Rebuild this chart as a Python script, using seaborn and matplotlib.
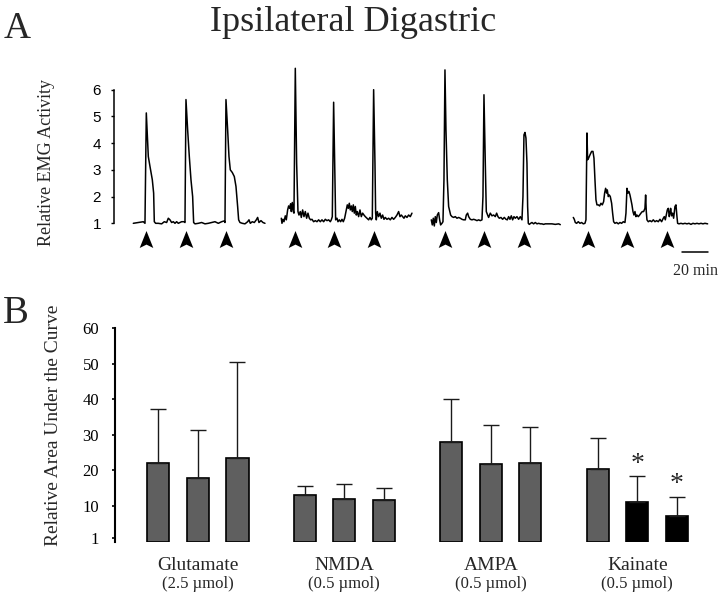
import numpy as np
import pandas as pd
import seaborn as sns
import matplotlib
matplotlib.use('Agg')
from matplotlib import pyplot as plt
from matplotlib import transforms
from matplotlib.path import Path

# ---- panel A: EMG traces, (minutes from trace start, relative EMG activity)
trace_glutamate = [
    (0, 1.0), (3.75, 1.03), (7.5, 1.06), (8.75, 1.0), (9.75, 5.13), (11.25, 3.5),
    (12.5, 3.13), (14.25, 2.63), (15.25, 2.13), (15.75, 1.06), (16.75, 1.0),
    (18.75, 1.0), (21.25, 0.98), (23.25, 1.06), (25, 1.03), (26.25, 1.19),
    (27.5, 1.13), (28.75, 1.03), (30, 1.06), (31.25, 1.0), (32.5, 1.06),
    (33.75, 1.0), (35, 1.03), (36.25, 1.06), (38, 1.06), (38.75, 1.03),
    (39.5, 5.63), (40.75, 4.5), (42, 3.5), (43.25, 2.63), (44.5, 2.0),
    (45.25, 1.03), (46.25, 0.98), (48.75, 1.0), (51.25, 1.03), (53.75, 0.98),
    (56.25, 1.0), (58.75, 1.03), (61.25, 1.06), (63.75, 1.0), (66.25, 1.06),
    (68.25, 1.09), (68.75, 1.03), (69.5, 5.63), (70.75, 4.5), (71.75, 3.5),
    (72.75, 3.0), (74.25, 2.9), (75.75, 2.75), (77, 2.38), (78.25, 1.63),
    (79, 1.13), (80, 1.03), (81.75, 1.0), (83.75, 0.98), (85.75, 1.06),
    (86.75, 1.13), (87.75, 1.0), (89.25, 1.06), (90.75, 1.03), (92.25, 1.13),
    (93.25, 1.22), (94.25, 1.03), (95.75, 1.1), (97.25, 1.03), (98.75, 1.0),
]
trace_nmda = [
    (0, 1.19), (0.5, 1.0), (1.25, 1.15), (2, 1.06), (3, 1.28), (3.75, 1.13),
    (4.75, 1.5), (5.5, 1.65), (6.25, 1.56), (7, 1.73), (7.5, 1.44), (8.25, 1.78),
    (9, 1.44), (9.5, 1.38), (10.5, 6.8), (11.5, 3.25), (12.5, 1.44), (13.25, 1.31),
    (14.25, 1.44), (15, 1.22), (16, 1.5), (17, 1.25), (18, 1.44), (19, 1.19),
    (20, 1.38), (21, 1.19), (22, 1.13), (23, 1.15), (24.25, 1.06), (25.5, 1.1),
    (26.75, 1.06), (28, 1.13), (29.25, 1.06), (30.5, 1.13), (31.75, 1.06),
    (33, 1.15), (34.25, 1.1), (35.5, 1.13), (36.75, 1.06), (37.5, 1.13),
    (38.25, 1.25), (39.25, 5.53), (40.25, 2.63), (40.75, 1.13), (41.75, 1.19),
    (42.5, 1.06), (43.5, 1.13), (44.5, 1.06), (45.5, 1.15), (46.5, 1.06),
    (47.5, 1.19), (48.5, 1.44), (49.5, 1.69), (50.25, 1.56), (51, 1.75),
    (51.75, 1.5), (52.5, 1.65), (53.25, 1.44), (54, 1.69), (54.75, 1.38),
    (55.5, 1.63), (56.25, 1.31), (57, 1.44), (58, 1.25), (59, 1.5), (60, 1.25),
    (61, 1.38), (62, 1.31), (63, 1.25), (64.25, 1.19), (65.5, 1.13), (66.5, 1.22),
    (67.5, 1.13), (68.25, 1.19), (69.25, 6.0), (70.25, 3.25), (70.75, 1.38),
    (71.25, 1.13), (72, 1.44), (73, 1.25), (74, 1.38), (75, 1.19), (76, 1.31),
    (77, 1.15), (78, 1.22), (79.25, 1.15), (80.5, 1.19), (81.75, 1.13), (83, 1.22),
    (84.25, 1.15), (85.5, 1.22), (86.75, 1.31), (88, 1.44), (89, 1.25), (90, 1.31),
    (91, 1.25), (92, 1.19), (93, 1.28), (94.25, 1.22), (95.5, 1.31), (96.75, 1.25),
    (98, 1.38),
]
trace_ampa = [
    (0, 1.13), (0.75, 0.94), (1.5, 1.19), (2.25, 0.9), (3, 1.25), (3.75, 1.03),
    (4.5, 1.31), (5.5, 1.4), (6.25, 1.13), (7, 0.94), (8, 1.0), (8.75, 1.06),
    (9.5, 2.63), (10.25, 6.74), (11, 4.5), (12, 2.63), (13, 1.63), (14.5, 1.31),
    (15.5, 1.25), (16.75, 1.22), (18, 1.25), (19.25, 1.19), (20.5, 1.22),
    (21.75, 1.19), (23, 1.15), (24.25, 1.13), (25.5, 1.13), (26.25, 1.31),
    (27.25, 1.38), (28, 1.25), (29.25, 1.15), (30.5, 1.13), (31.75, 1.15),
    (33, 1.13), (34.25, 1.1), (35.5, 1.13), (36.75, 1.1), (38, 1.13), (38.75, 2.0),
    (39.5, 5.81), (40.5, 3.25), (41.25, 1.44), (42.25, 1.31), (43, 1.22),
    (44.25, 1.38), (45.5, 1.28), (46.75, 1.31), (48, 1.25), (49, 1.38), (50, 1.25),
    (51, 1.19), (52.25, 1.22), (53.5, 1.15), (54.75, 1.22), (56, 1.15), (57, 1.13),
    (58, 1.25), (59, 1.15), (60, 1.28), (61, 1.13), (62, 1.25), (63, 1.19),
    (64.25, 1.25), (65.5, 1.15), (66.75, 1.25), (68, 1.13), (68.75, 2.0),
    (69.5, 4.31), (70.25, 4.4), (71, 4.19), (71.75, 3.25), (72.25, 1.63),
    (72.75, 1.0), (73.5, 0.96), (74.5, 1.0), (75.5, 1.03), (76.75, 0.98), (78, 1.03),
    (79.25, 0.98), (80.5, 1.0), (81.75, 0.98), (83, 0.98), (84.25, 0.96),
    (85.5, 0.98), (88, 0.98), (90.5, 0.98), (93, 0.96), (95.5, 0.98), (96.75, 0.95),
]
trace_kainate = [
    (0, 1.22), (0.75, 1.15), (1.5, 1.03), (2.5, 1.0), (3.75, 1.06), (5, 1.0),
    (6.25, 1.03), (7.5, 0.98), (8.75, 1.0), (9.5, 1.13), (10.25, 4.38),
    (10.75, 3.38), (11.5, 3.44), (12.5, 3.56), (13.75, 3.69), (14.75, 3.69),
    (15.5, 3.44), (16.25, 2.63), (17, 1.88), (17.75, 1.69), (18.75, 1.69),
    (19.75, 1.65), (20.75, 1.75), (21.75, 1.69), (22.75, 1.81), (23.5, 2.13),
    (24.25, 2.31), (25, 2.13), (25.5, 2.25), (26.25, 2.0), (27, 2.06), (27.75, 2.0),
    (28.75, 1.75), (29.5, 1.38), (30.25, 1.06), (31.25, 1.0), (32.5, 1.03),
    (33.75, 0.98), (35, 1.03), (36.25, 1.0), (37.5, 1.06), (38.75, 1.03),
    (39.5, 1.38), (40.25, 2.31), (41, 2.13), (41.75, 2.19), (42.5, 2.06),
    (43.25, 1.88), (44, 1.69), (44.75, 1.44), (45.5, 1.31), (46.25, 1.44),
    (47, 1.25), (47.75, 1.31), (48.75, 1.25), (49.75, 1.31), (50.75, 1.38),
    (51.75, 1.44), (52.75, 1.44), (53.75, 1.56), (54.25, 2.06), (54.75, 1.44),
    (55.25, 1.13), (56.25, 1.06), (57.5, 1.1), (58.75, 1.06), (60, 1.13),
    (61.25, 1.06), (62.5, 1.1), (63.75, 1.06), (65, 1.15), (66.25, 1.06),
    (67.5, 1.19), (68.25, 1.25), (69, 1.13), (69.75, 1.31), (70.5, 1.5),
    (71.25, 1.56), (72, 1.25), (72.5, 1.38), (73, 1.56), (73.75, 1.28),
    (74.5, 1.38), (75.25, 1.19), (76.25, 1.63), (77, 1.69), (77.75, 1.25),
    (78.25, 1.0), (79.25, 0.98), (80.75, 1.0), (82.25, 0.98), (83.75, 1.0),
    (85.25, 0.98), (86.75, 1.0), (88.25, 0.96), (89.75, 1.0), (91.25, 0.98),
    (92.75, 1.0), (94.25, 0.98), (95.75, 1.0), (97.25, 0.98), (98.75, 1.0),
    (100.75, 0.98),
]
agents = ['Glutamate', 'NMDA', 'AMPA', 'Kainate']
doses = ['(2.5 \u00b5mol)', '(0.5 \u00b5mol)', '(0.5 \u00b5mol)', '(0.5 \u00b5mol)']
trace_starts = [14.5, 125.5, 238.0, 344.5]          # min on the record
injection_times = [[9.75, 39.5, 69.25], [10, 39.25, 69.25],
                   [10, 39.25, 69.25], [10.75, 40, 70]]

# ---- panel B: relative area under the curve, mean and SEM per injection
injections = ['1st', '2nd', '3rd']
auc_inj1 = [22.1, 13.1, 28.0, 20.4]
auc_inj2 = [17.8, 11.9, 21.7, 11.0]
auc_inj3 = [23.4, 11.7, 22.1, 7.1]
sem_inj1 = [15.2, 2.6, 12.1, 8.6]
sem_inj2 = [13.5, 4.2, 11.0, 7.4]
sem_inj3 = [27.0, 3.3, 10.2, 5.5]
sig_inj1 = [False, False, False, False]
sig_inj2 = [False, False, False, True]
sig_inj3 = [False, False, False, True]

sns.set_style('ticks')
plt.rcParams['font.family'] = ['Liberation Serif', 'DejaVu Serif']

fig = plt.figure(figsize=(7.2, 5.95), dpi=100)
ax_a = fig.add_axes([0.1583, 0.5618, 0.8296, 0.3324])
ax_b = fig.add_axes([0.1597, 0.0899, 0.8264, 0.3588])

# ---------- panel A
traces = dict(zip(agents, [trace_glutamate, trace_nmda, trace_ampa, trace_kainate]))
rows = []
for agent, start in zip(agents, trace_starts):
    for t, v in traces[agent]:
        rows.append({'agent': agent, 'time': start + t, 'emg': v})
emg = pd.DataFrame(rows)
sns.lineplot(data=emg, x='time', y='emg', units='agent', estimator=None,
             color='black', linewidth=1.1, sort=False, ax=ax_a)

arrow = Path([(0, 0.5), (0.4, -0.5), (0, -0.3), (-0.4, -0.5), (0, 0.5)], closed=True)
arrow_x = [start + t for start, times in zip(trace_starts, injection_times) for t in times]
ax_a.scatter(arrow_x, [0.43] * len(arrow_x), marker=arrow, s=150,
             color='black', linewidths=0, clip_on=False)

# 20 min scale bar
ax_a.plot([425.8, 445.8], [-0.06, -0.06], color='black', lw=1.1, clip_on=False)
ax_a.text(435.8, -0.93, '20 min', ha='center', va='baseline', fontsize=11.5)

ax_a.set_xlim(0, 448)
ax_a.set_ylim(-0.4, 7.0)
ax_a.set_yticks(range(1, 7))
for lab in ax_a.get_yticklabels():
    lab.set_fontfamily(['Liberation Sans', 'DejaVu Sans'])
    lab.set_fontsize(11)
ax_a.tick_params(axis='y', length=2.4, width=1.0, pad=7, colors='black')
ax_a.set_xticks([])
ax_a.set_xlabel('')
ax_a.set_ylabel('Relative EMG Activity', fontsize=13)
ax_a.yaxis.set_label_coords(-0.099, 0.496)
for side in ['top', 'right', 'bottom']:
    ax_a.spines[side].set_visible(False)
ax_a.spines['left'].set_bounds(1, 6)
ax_a.spines['left'].set_linewidth(1.1)
ax_a.spines['left'].set_color('black')

# ---------- panel B
auc = pd.DataFrame({
    'agent': agents * 3,
    'injection': np.repeat(injections, len(agents)),
    'auc': auc_inj1 + auc_inj2 + auc_inj3,
})
sns.barplot(data=auc, x='agent', y='auc', hue='injection', order=agents,
            hue_order=injections, palette=['#5f5f5f'] * 3, errorbar=None,
            width=0.81, gap=0.44, edgecolor='black', linewidth=1.2,
            legend=False, ax=ax_b)

bar_containers = list(ax_b.containers)
for cont, means, sems, sigs in zip(bar_containers,
                                   [auc_inj1, auc_inj2, auc_inj3],
                                   [sem_inj1, sem_inj2, sem_inj3],
                                   [sig_inj1, sig_inj2, sig_inj3]):
    xs = [p.get_x() + p.get_width() / 2 for p in cont.patches]
    ax_b.errorbar(xs, means, yerr=[np.zeros(len(sems)), sems], fmt='none',
                  ecolor='#1a1a1a', elinewidth=1.0, capsize=6, capthick=1.0)
    for p, x, m, s, sig in zip(cont.patches, xs, means, sems, sigs):
        if sig:
            p.set_facecolor('black')
            ax_b.annotate('*', xy=(x, m + s), xytext=(0, 8.5), textcoords='offset points',
                          ha='center', va='center', fontsize=20)

ax_b.set_xlim(-0.566, 3.496)
ax_b.set_ylim(0, 60)
ax_b.set_yticks([1, 10, 20, 30, 40, 50, 60])
ax_b.tick_params(axis='y', length=2.4, width=1.2, pad=9, labelsize=12, colors='black')
ax_b.set_xticks([])
ax_b.set_xlabel('')
ax_b.set_ylabel('Relative Area Under the Curve', fontsize=14)
ax_b.yaxis.set_label_coords(-0.089, 0.546)
for side in ['top', 'right', 'bottom']:
    ax_b.spines[side].set_visible(False)
ax_b.spines['left'].set_linewidth(1.5)
ax_b.spines['left'].set_color('black')

trans = transforms.blended_transform_factory(ax_b.transData, ax_b.transAxes)
for i, (name, dose) in enumerate(zip(agents, doses)):
    ax_b.text(i, -0.1335, name, transform=trans, ha='center', va='baseline', fontsize=14)
    ax_b.text(i, -0.2192, dose, transform=trans, ha='center', va='baseline', fontsize=12)

# ---------- titles / panel letters
fig.text(353 / 720, 1 - 30.7 / 595, 'Ipsilateral Digastric', ha='center',
         va='baseline', fontsize=26)
fig.text(3.3 / 720, 1 - 38.3 / 595, 'A', ha='left', va='baseline', fontsize=27)
fig.text(3.0 / 720, 1 - 322.7 / 595, 'B', ha='left', va='baseline', fontsize=28)

fig.savefig('out.png', dpi=100)
